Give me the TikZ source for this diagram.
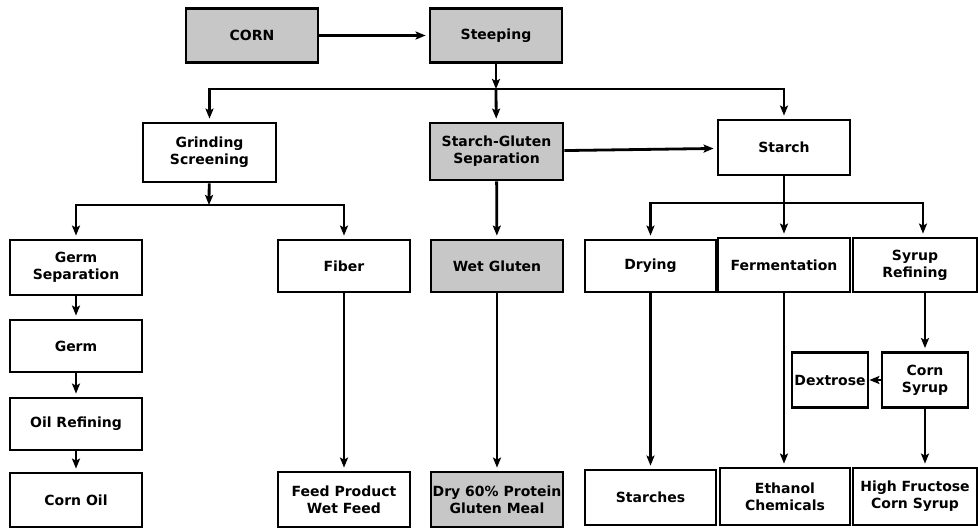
\documentclass[tikz,border=0pt]{standalone}
\usepackage{fontspec}
\setmainfont{DejaVu Sans}
\usetikzlibrary{positioning,arrows.meta}

\begin{document}
\begin{tikzpicture}[x=1pt,y=-1pt,
box/.style={draw,line width=2.8pt,minimum width=132pt,minimum height=54pt,inner sep=1pt,align=center,font=\bfseries\fontsize{14}{17}\selectfont},
grey/.style={box,fill=black!22},
flow/.style={line width=2.8pt,shorten >=3pt,-{Stealth[length=10pt,width=8pt,inset=2pt]}},
link/.style={line width=2.8pt},
]
	\useasboundingbox (0,0) rectangle (978,529);
	% top row
	\node[grey] (corn) at (252,35.5) {CORN};
	\node[grey] (steep) at (496,35.5) {Steeping};
	% second row
	\node[box,minimum height=59pt,minimum width=133pt] (grind) at (209.5,152.5) {Grinding\\Screening};
	\node[grey,minimum height=57pt,minimum width=133pt] (sgsep) at (496.5,151.5) {Starch-Gluten\\Separation};
	\node[box,minimum height=55pt] (starch) at (784,147.5) {Starch};
	% third row
	\node[box,minimum height=55pt] (germsep) at (76,267.5) {Germ\\Separation};
	\node[box,minimum height=52pt] (fiber) at (344,266) {Fiber};
	\node[grey,minimum height=52pt] (wetgl) at (497,266) {Wet Gluten};
	\node[box,minimum height=52pt,minimum width=131pt] (drying) at (650.5,266) {Drying};
	\node[box] (ferment) at (784,265) {Fermentation};
	\node[box,minimum width=124pt] (syrupref) at (915,265) {Syrup\\Refining};
	% germ line
	\node[box,minimum height=52pt] (germ) at (76,346) {Germ};
	\node[box,minimum height=52pt] (oilref) at (76,424) {Oil Refining};
	% syrup line
	\node[box,minimum width=76pt,minimum height=55pt] (dextrose) at (830,380) {Dextrose};
	\node[box,minimum width=86pt,minimum height=55pt] (cornsyrup) at (925,380) {Corn\\Syrup};
	% products
	\node[box] (cornoil) at (76,500) {Corn Oil};
	\node[box,minimum height=55pt] (feed) at (344,499.5) {Feed Product\\Wet Feed};
	\node[grey,minimum height=55pt] (dry60) at (497,499.5) {Dry 60\% Protein\\Gluten Meal};
	\node[box,minimum height=55pt,minimum width=131pt] (starches) at (650.5,497.5) {Starches};
	\node[box,minimum height=57pt,minimum width=130pt] (ethanol) at (785,496.5) {Ethanol\\Chemicals};
	\node[box,minimum height=57pt,minimum width=124pt] (hfcs) at (915,496.5) {High Fructose\\Corn Syrup};

	\coordinate (sj) at (496,89);
	\coordinate (gj) at (209,205);
	\coordinate (stj) at (784,203);

	\draw[flow] (corn) -- (steep);
	\draw[flow,shorten >=0pt] (steep) -- (sj);
	\draw[flow] (sj) -| (grind);
	\draw[flow] (sj) -- (sgsep);
	\draw[flow] (sj) -| (starch);
	\draw[flow] (sgsep) -- (starch);

	\draw[flow,shorten >=0pt] (grind) -- (gj);
	\draw[flow] (gj) -| (germsep);
	\draw[flow] (gj) -| (fiber);
	\draw[flow] (sgsep) -- (wetgl);

	\draw[link] (starch) -- (stj);
	\draw[flow] (stj) -| (drying);
	\draw[flow] (stj) -- (ferment);
	\draw[flow] (stj) -| ([xshift=8pt]syrupref.north);

	\draw[flow] (germsep) -- (germ);
	\draw[flow] (germ) -- (oilref);
	\draw[flow] (oilref) -- (cornoil);
	\draw[flow] (fiber) -- (feed);
	\draw[flow] (wetgl) -- (dry60);
	\draw[flow] (drying) -- (starches);
	\draw[flow] (ferment) -- (ferment |- ethanol.north);
	\draw[flow] (cornsyrup |- syrupref.south) -- (cornsyrup);
	\draw[flow,shorten >=0pt] (cornsyrup) -- (dextrose);
	\draw[flow] (cornsyrup) -- (cornsyrup |- hfcs.north);
\end{tikzpicture}
\end{document}
